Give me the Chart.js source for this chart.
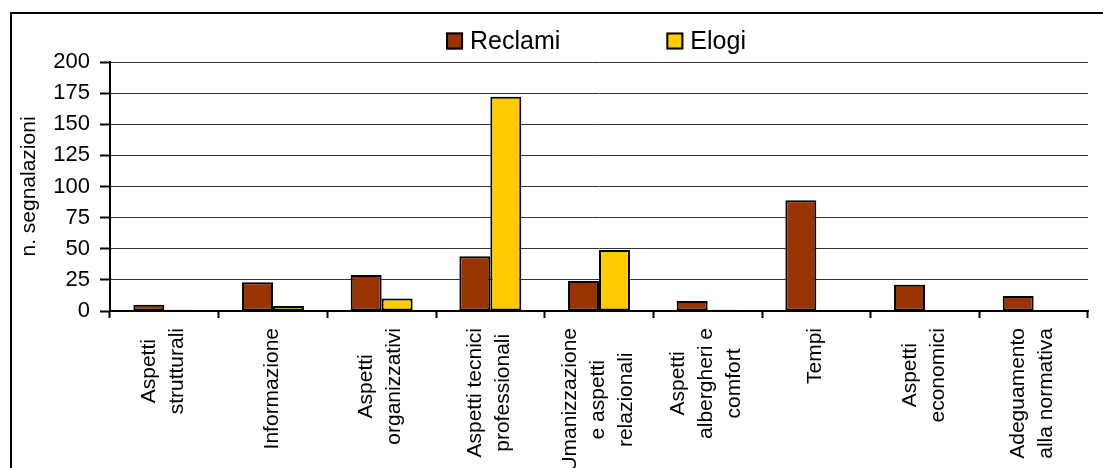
<!DOCTYPE html>
<html>
<head>
<meta charset="utf-8">
<title>Reclami ed elogi per aspetto</title>
<script src="https://cdn.jsdelivr.net/npm/chart.js@4.4.1/dist/chart.umd.min.js"></script>
<style>
  html, body { margin: 0; padding: 0; background: #fff; }
  canvas { display: block; }
</style>
</head>
<body>
<canvas id="chart" width="1103" height="468"></canvas>
<script>
// one inner array per category, one string per line of the label
const categories = [
  ['Aspetti', 'strutturali'],
  ['Informazione'],
  ['Aspetti', 'organizzativi'],
  ['Aspetti tecnici', 'professionali'],
  ['Umanizzazione', 'e aspetti', 'relazionali'],
  ['Aspetti', 'albergheri e', 'comfort'],
  ['Tempi'],
  ['Aspetti', 'economici'],
  ['Adeguamento', 'alla normativa']
];
const reclami = [5, 23, 29, 44, 24, 8, 89, 21, 12];
const elogi = [1, 4, 10, 172, 49, 1, 0, 0, 0];
const seriesNames = ['Reclami', 'Elogi'];
const yMin = 0, yMax = 200, yStep = 25;
const yTitle = 'n. segnalazioni';

const FONT = '"Liberation Sans", Arial, sans-serif';
Chart.defaults.font.family = FONT;
Chart.defaults.color = '#000';

// black frame round the whole chart (runs off the right and bottom edges)
const frame = {
  id: 'frame',
  beforeDraw(chart) {
    const ctx = chart.ctx;
    ctx.save();
    ctx.fillStyle = '#fff';
    ctx.fillRect(0, 0, chart.width, chart.height);
    ctx.strokeStyle = '#000';
    ctx.lineWidth = 2;
    ctx.strokeRect(11, 13, chart.width + 40, chart.height + 40);
    ctx.restore();
  }
};

// legend drawn by hand so the items sit over the plot like in the original
const legendBoxes = {
  id: 'legendBoxes',
  afterDraw(chart) {
    const ctx = chart.ctx;
    const area = chart.chartArea;
    const box = 17, gapText = 7, gapItem = 106;
    ctx.save();
    ctx.font = '25px ' + FONT;
    const items = chart.data.datasets.map(ds => ({
      label: ds.label,
      color: ds.backgroundColor,
      w: ctx.measureText(ds.label).width
    }));
    let total = gapItem * (items.length - 1);
    items.forEach(it => { total += box + gapText + it.w; });
    let x = (area.left + area.right) / 2 - 3 - total / 2;
    const y = 41;
    items.forEach(it => {
      ctx.fillStyle = it.color;
      ctx.fillRect(x, y - box / 2, box, box);
      ctx.lineWidth = 2;
      ctx.strokeStyle = '#000';
      ctx.strokeRect(x + 1, y - box / 2 + 1, box - 2, box - 2);
      ctx.fillStyle = '#000';
      ctx.textAlign = 'left';
      ctx.textBaseline = 'middle';
      ctx.fillText(it.label, x + box + gapText, y + 1);
      x += box + gapText + it.w + gapItem;
    });
    ctx.restore();
  }
};

// vertical category labels: block starts under the axis, lines centred on each other
const xLabels = {
  id: 'xLabels',
  afterDraw(chart) {
    const ctx = chart.ctx, xs = chart.scales.x;
    const top = chart.chartArea.bottom + 17;
    const lineH = 28;
    ctx.save();
    ctx.font = '21px ' + FONT;
    ctx.fillStyle = '#000';
    ctx.textAlign = 'center';
    ctx.textBaseline = 'middle';
    categories.forEach((lines, i) => {
      const cx = xs.getPixelForValue(i) - 1;
      const w = Math.max(...lines.map(l => ctx.measureText(l).width));
      const cy = top + w / 2;
      lines.forEach((line, j) => {
        ctx.save();
        ctx.translate(cx + (j - (lines.length - 1) / 2) * lineH, cy);
        ctx.rotate(-Math.PI / 2);
        ctx.fillText(line, 0, 0);
        ctx.restore();
      });
    });
    ctx.restore();
  }
};

new Chart(document.getElementById('chart'), {
  type: 'bar',
  data: {
    labels: categories,
    datasets: [
      {
        label: seriesNames[0], data: reclami,
        backgroundColor: '#993300', borderColor: '#000', borderWidth: 2,
        borderSkipped: false,
        categoryPercentage: 0.57, barPercentage: 1
      },
      {
        label: seriesNames[1], data: elogi,
        backgroundColor: '#FFCC00', borderColor: '#000', borderWidth: 2,
        borderSkipped: false,
        categoryPercentage: 0.57, barPercentage: 1
      }
    ]
  },
  options: {
    responsive: false,
    animation: false,
    layout: { padding: { top: 62, right: 15, bottom: 0, left: 0 } },
    plugins: {
      legend: { display: false },
      tooltip: { enabled: false }
    },
    scales: {
      x: {
        grid: { offset: true, drawOnChartArea: false, tickLength: 7, tickColor: '#000', tickWidth: 2 },
        border: { color: '#000', width: 2 },
        ticks: { display: false },
        afterFit(s) { s.height = 157; }
      },
      y: {
        min: yMin,
        max: yMax,
        ticks: { stepSize: yStep, padding: 10, color: '#000', font: { size: 22 } },
        grid: { color: '#333', tickLength: 10, tickColor: '#000', tickWidth: 2 },
        border: { color: '#000', width: 2 },
        title: {
          display: true, text: yTitle, color: '#000',
          font: { size: 21 }, padding: { top: 17, bottom: 0 }
        },
        afterFit(s) { s.width = 110; }
      }
    }
  },
  plugins: [frame, legendBoxes, xLabels]
});
</script>
</body>
</html>
